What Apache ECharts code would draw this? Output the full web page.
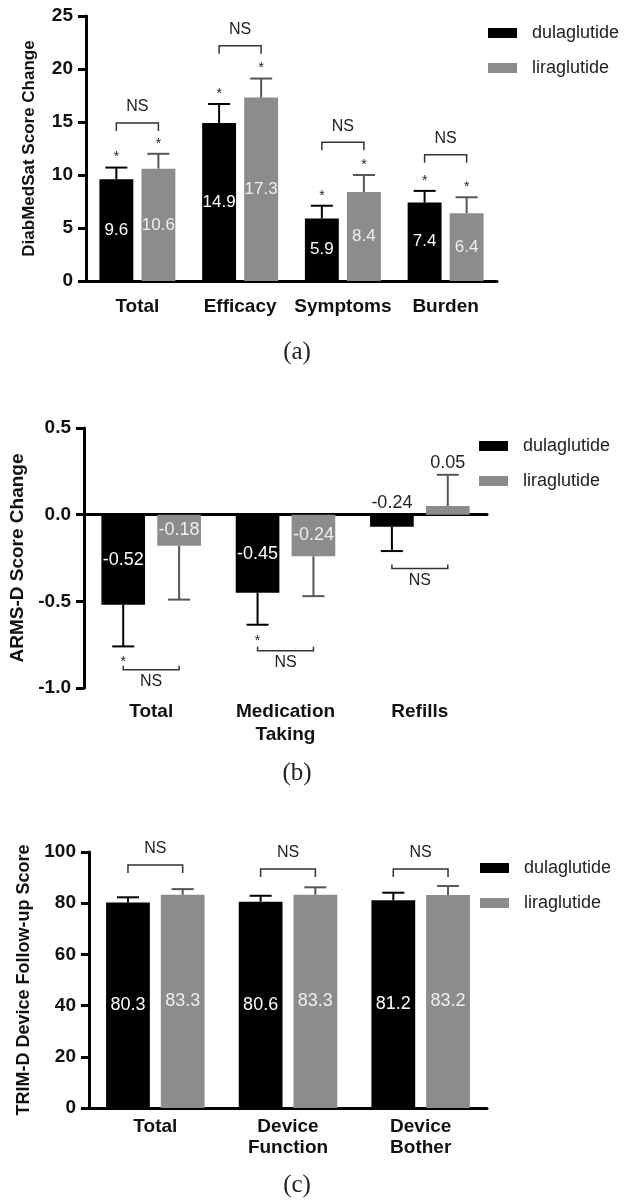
<!DOCTYPE html>
<html>
<head>
<meta charset="utf-8">
<script src="https://cdn.jsdelivr.net/npm/echarts@6/dist/echarts.min.js"></script>
<style>
  html, body { margin: 0; padding: 0; background: #fff; }
  #chart { width: 625px; height: 1201px; }
</style>
</head>
<body>
<div id="chart"></div>
<script>
const FONT = '"Liberation Sans", Arial, sans-serif';

// (a) DiabMedSat score change
const catsA = ['Total', 'Efficacy', 'Symptoms', 'Burden'];
const dulaA = [9.6, 14.9, 5.9, 7.4];
const liraA = [10.6, 17.3, 8.4, 6.4];
const dulaErrA = [10.7, 16.7, 7.1, 8.5];
const liraErrA = [12.0, 19.1, 10.0, 7.9];
const nsA = [14.9, 22.2, 13.1, 11.9];
const starDulaA = [1, 1, 1, 1];
const starLiraA = [1, 1, 1, 1];
const yTicksA = [0, 5, 10, 15, 20, 25];

// (b) ARMS-D score change
const catsB = ['Total', 'Medication\nTaking', 'Refills'];
const dulaB = [-0.52, -0.45, -0.07];
const liraB = [-0.18, -0.24, 0.05];
const dulaLabB = ['-0.52', '-0.45', '-0.24'];
const liraLabB = ['-0.18', '-0.24', '0.05'];
const dulaInB = [1, 1, 0];
const liraInB = [1, 1, 0];
const dulaErrB = [-0.76, -0.635, -0.21];
const liraErrB = [-0.49, -0.47, 0.23];
const nsB = [-0.894, -0.785, -0.31];
const starDulaB = [1, 1, 0];
const starLiraB = [0, 0, 0];
const yTicksB = [-1.0, -0.5, 0.0, 0.5];

// (c) TRIM-D device follow-up score
const catsC = ['Total', 'Device\nFunction', 'Device\nBother'];
const dulaC = [80.3, 80.6, 81.2];
const liraC = [83.3, 83.3, 83.2];
const dulaErrC = [82.3, 82.9, 84.1];
const liraErrC = [85.5, 86.2, 86.7];
const nsC = [94.9, 93.4, 93.4];
const yTicksC = [0, 20, 40, 60, 80, 100];

const panels = [
  {
    cats: catsA, dula: dulaA, lira: liraA,
    dulaLab: dulaA.map(v => v.toFixed(1)), liraLab: liraA.map(v => v.toFixed(1)),
    dulaIn: catsA.map(() => 1), liraIn: catsA.map(() => 1),
    dulaErr: dulaErrA, liraErr: liraErrA, ns: nsA,
    dulaStar: starDulaA, liraStar: starLiraA, ticks: yTicksA,
    name: 'DiabMedSat Score Change', nameSize: 17, nameGap: 48,
    grid: { left: 86, top: 16, width: 411, height: 265 },
    barW: 0.33, gap: 0.24, labSize: 17, nsBelow: false, tick: 8, xMargin: 15,
    legendTop: 23, legendLeft: 488, caption: '(a)', capY: 352
  },
  {
    cats: catsB, dula: dulaB, lira: liraB,
    dulaLab: dulaLabB, liraLab: liraLabB, dulaIn: dulaInB, liraIn: liraInB,
    dulaErr: dulaErrB, liraErr: liraErrB, ns: nsB,
    dulaStar: starDulaB, liraStar: starLiraB, ticks: yTicksB,
    name: 'ARMS-D Score Change', nameSize: 19, nameGap: 56,
    grid: { left: 84, top: 428, width: 403, height: 260 },
    barW: 0.325, gap: 0.28, labSize: 18, nsBelow: true, tick: 4, xMargin: 12,
    legendTop: 436, legendLeft: 479, caption: '(b)', capY: 773, split: true
  },
  {
    cats: catsC, dula: dulaC, lira: liraC,
    dulaLab: dulaC.map(v => v.toFixed(1)), liraLab: liraC.map(v => v.toFixed(1)),
    dulaIn: catsC.map(() => 1), liraIn: catsC.map(() => 1),
    dulaErr: dulaErrC, liraErr: liraErrC, ns: nsC,
    dulaStar: catsC.map(() => 0), liraStar: catsC.map(() => 0), ticks: yTicksC,
    name: 'TRIM-D Device Follow-up Score', nameSize: 18, nameGap: 55,
    grid: { left: 89, top: 852, width: 398, height: 256 },
    barW: 0.33, gap: 0.25, labSize: 18, nsBelow: false, tick: 8, xMargin: 8,
    legendTop: 858, legendLeft: 480, caption: '(c)', capY: 1185
  }
];

function annotSeries(p, xi, yi) {
  return {
    type: 'custom',
    name: 'annot',
    xAxisIndex: xi,
    yAxisIndex: yi,
    z: 5,
    silent: true,
    clip: false,
    data: p.cats.map((c, i) => [i]),
    renderItem: function (params, api) {
      const i = api.value(0);
      const band = api.size([1, 0])[0];
      const off = band * p.barW * (1 + p.gap) / 2;
      const base = api.coord([i, 0]);
      const cx = base[0];
      const y0 = base[1];
      const kids = [];
      const sets = [
        { v: p.dula, e: p.dulaErr, lab: p.dulaLab, inside: p.dulaIn, star: p.dulaStar, side: -1, err: '#000', txt: '#fff' },
        { v: p.lira, e: p.liraErr, lab: p.liraLab, inside: p.liraIn, star: p.liraStar, side: 1, err: '#555', txt: '#eee' }
      ];
      sets.forEach(s => {
        const x = cx + s.side * off;
        const yv = api.coord([i, s.v[i]])[1];
        const ye = api.coord([i, s.e[i]])[1];
        kids.push({ type: 'line', shape: { x1: x, y1: yv, x2: x, y2: ye }, style: { stroke: s.err, lineWidth: 2 } });
        kids.push({ type: 'line', shape: { x1: x - 11, y1: ye, x2: x + 11, y2: ye }, style: { stroke: s.err, lineWidth: 2 } });
        if (s.star[i]) {
          const up = ye < yv;
          kids.push({
            type: 'text', x: x, y: up ? ye - 10 : ye + 16,
            style: { text: '*', fontSize: 14, fill: '#222', align: 'center', verticalAlign: 'middle', fontFamily: FONT }
          });
        }
        if (s.inside[i]) {
          kids.push({
            type: 'text', x: x, y: (yv + y0) / 2,
            style: { text: s.lab[i], fontSize: p.labSize, fill: s.txt, align: 'center', verticalAlign: 'middle', fontFamily: FONT }
          });
        } else {
          kids.push({
            type: 'text', x: x, y: Math.min(y0, yv, ye) - 3,
            style: { text: s.lab[i], fontSize: p.labSize, fill: '#222', align: 'center', verticalAlign: 'bottom', fontFamily: FONT }
          });
        }
      });
      const yb = api.coord([i, p.ns[i]])[1];
      const d = p.nsBelow ? -p.tick : p.tick;
      kids.push({
        type: 'polyline',
        shape: { points: [[cx - off, yb + d], [cx - off, yb], [cx + off, yb], [cx + off, yb + d]] },
        style: { stroke: '#333', lineWidth: 1.5, fill: 'none' }
      });
      kids.push({
        type: 'text', x: cx, y: p.nsBelow ? yb + 12 : yb - 16,
        style: { text: 'NS', fontSize: 16, fill: '#222', align: 'center', verticalAlign: 'middle', fontFamily: FONT }
      });
      return { type: 'group', children: kids };
    }
  };
}

const grids = [];
const xAxes = [];
const yAxes = [];
const series = [];
const legends = [];
const graphics = [];

panels.forEach((p, k) => {
  grids.push(p.grid);
  const labelStyle = { fontSize: 19, fontWeight: 'bold', color: '#111', fontFamily: FONT };
  const barX = xAxes.length;
  xAxes.push({
    gridIndex: k, type: 'category', data: p.cats,
    axisLine: { show: true, onZero: !!p.split, lineStyle: { color: '#000', width: 3 } },
    axisTick: { show: false },
    axisLabel: p.split ? { show: false } : Object.assign({ margin: p.xMargin, lineHeight: 21, interval: 0 }, labelStyle)
  });
  if (p.split) {
    xAxes.push({
      gridIndex: k, type: 'category', data: p.cats, position: 'bottom',
      axisLine: { show: false, onZero: false },
      axisTick: { show: false },
      axisLabel: Object.assign({ margin: p.xMargin, lineHeight: 23, interval: 0 }, labelStyle)
    });
  }
  const t = p.ticks;
  yAxes.push({
    gridIndex: k, type: 'value',
    min: t[0], max: t[t.length - 1], interval: t[1] - t[0],
    name: p.name, nameLocation: 'middle', nameGap: p.nameGap,
    nameTextStyle: { fontSize: p.nameSize, fontWeight: 'bold', color: '#111', fontFamily: FONT },
    axisLine: { show: true, lineStyle: { color: '#000', width: 3 } },
    axisTick: { show: true, length: 8, lineStyle: { color: '#000', width: 3 } },
    splitLine: { show: false },
    axisLabel: Object.assign({
      margin: 13,
      formatter: v => (p.split ? v.toFixed(1) : String(v))
    }, labelStyle)
  });
  series.push({
    type: 'bar', name: 'dulaglutide', xAxisIndex: barX, yAxisIndex: k,
    data: p.dula, barWidth: (p.barW * 100) + '%', barGap: (p.gap * 100) + '%',
    itemStyle: { color: '#000' }, silent: true
  });
  series.push({
    type: 'bar', name: 'liraglutide', xAxisIndex: barX, yAxisIndex: k,
    data: p.lira, barWidth: (p.barW * 100) + '%', barGap: (p.gap * 100) + '%',
    itemStyle: { color: '#8c8c8c' }, silent: true
  });
  series.push(annotSeries(p, barX, k));
  legends.push({
    data: ['dulaglutide', 'liraglutide'], orient: 'vertical',
    left: p.legendLeft, top: p.legendTop, padding: 0, icon: 'rect',
    itemWidth: 29, itemHeight: 10, itemGap: 15, selectedMode: false,
    textStyle: { fontSize: 18, color: '#222', lineHeight: 20, padding: [0, 0, 0, 10], fontFamily: FONT }
  });
  graphics.push({
    type: 'text', x: 297, y: p.capY,
    style: { text: p.caption, fontSize: 25, fill: '#222', align: 'center', verticalAlign: 'middle', fontFamily: '"Liberation Serif", "Times New Roman", serif' }
  });
});

const chart = echarts.init(document.getElementById('chart'), null, { renderer: 'canvas' });
chart.setOption({
  animation: false,
  backgroundColor: '#fff',
  grid: grids,
  xAxis: xAxes,
  yAxis: yAxes,
  legend: legends,
  series: series,
  graphic: graphics
});
</script>
</body>
</html>
